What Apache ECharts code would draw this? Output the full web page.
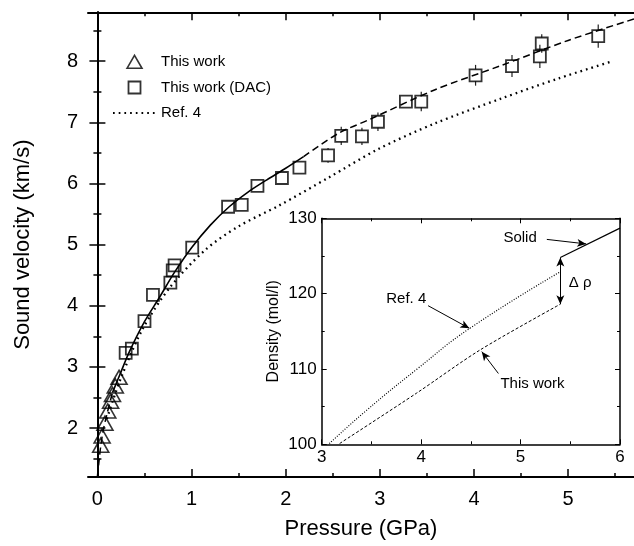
<!DOCTYPE html>
<html>
<head>
<meta charset="utf-8">
<script src="https://cdn.jsdelivr.net/npm/echarts@6.0.0/dist/echarts.min.js"></script>
<style>
  html, body { margin: 0; padding: 0; background: #fff; }
  #chart { width: 634px; height: 546px; }
</style>
</head>
<body>
<div id="chart"></div>
<script>
// Données
// Mesures "This work" (triangles)
const triP = [0.035, 0.05, 0.08, 0.11, 0.14, 0.16, 0.19, 0.23];
const triV = [1.72, 1.87, 2.08, 2.28, 2.44, 2.55, 2.69, 2.83];

// Mesures DAC (carrés) + barres d'erreur
const dacP = [0.30, 0.366, 0.50, 0.59, 0.775, 0.80, 0.82, 1.007, 1.388, 1.533, 1.70, 1.96, 2.146,
              2.45, 2.59, 2.81, 2.98, 3.277, 3.44, 4.017, 4.404, 4.70, 4.72, 5.32];
const dacV = [3.23, 3.30, 3.75, 4.18, 4.38, 4.58, 4.66, 4.95, 5.62, 5.65, 5.96, 6.09, 6.26,
              6.46, 6.78, 6.77, 7.01, 7.34, 7.34, 7.77, 7.92, 8.08, 8.29, 8.41];
const dacErr = [0, 0, 0, 0, 0, 0, 0, 0, 0, 0, 0, 0, 0,
                0.12, 0.15, 0.14, 0.15, 0, 0.16, 0.17, 0.18, 0.19, 0.15, 0.19];

// Ajustement (trait plein au milieu, tirets aux extrémités)
const fitLowP = [0.0, 0.02, 0.035, 0.06, 0.10, 0.16];
const fitLowV = [1.21, 1.50, 1.70, 1.95, 2.22, 2.58];
const fitP = [0.16, 0.24, 0.34, 0.50, 0.66, 0.82, 1.00, 1.20, 1.40, 1.60, 1.80, 2.00, 2.19];
const fitV = [2.58, 2.88, 3.25, 3.74, 4.14, 4.55, 4.95, 5.32, 5.62, 5.86, 6.06, 6.25, 6.44];
const fitHighP = [2.19, 2.56, 2.88, 3.58, 4.29, 5.00, 5.70];
const fitHighV = [6.44, 6.82, 7.04, 7.53, 7.93, 8.34, 8.69];

// Ref. 4 (pointillés)
const refP = [0.10, 0.25, 0.48, 0.77, 1.15, 1.50, 1.93, 2.46, 2.98, 3.58, 4.29, 4.90, 5.47];
const refV = [2.15, 2.82, 3.62, 4.30, 4.92, 5.30, 5.64, 6.10, 6.56, 6.98, 7.39, 7.72, 8.00];

// Graduations de l'axe principal
const xMajor = [0, 1, 2, 3, 4, 5];
const xMinor = [0.5, 1.5, 2.5, 3.5, 4.5, 5.5];
const yMajor = [2, 3, 4, 5, 6, 7, 8];
const yMinor = [1.5, 2.5, 3.5, 4.5, 5.5, 6.5, 7.5, 8.5];

// Encart : densité
const insRefP = [3.077, 3.45, 3.96, 4.49, 5.40];
const insRefD = [100.1, 104.5, 110.0, 115.4, 122.9];
const insWorkP = [3.18, 3.955, 4.59, 5.40];
const insWorkD = [100.1, 106.8, 112.5, 118.6];
const insSolidP = [5.40, 6.00];
const insSolidD = [124.8, 128.7];

const FONT = '"Liberation Sans", Arial, sans-serif';

function zip(a, b) { return a.map((x, i) => [x, b[i]]); }

const errData = dacP.map((p, i) => [p, dacV[i], dacErr[i]]).filter(d => d[2] > 0);

// Axe "graduations seulement" (cadre principal)
function tickAxis(dim, pos, vals, len, showLine) {
    return {
        type: 'value', gridIndex: 0, position: pos,
        min: dim === 'x' ? -0.1 : 1.2,
        max: dim === 'x' ? 5.7 : 8.8,
        axisLine: { show: showLine, lineStyle: { color: '#000', width: 2 } },
        axisTick: { show: true, inside: true, length: len, customValues: vals,
                    lineStyle: { color: '#000', width: 1.5 } },
        axisLabel: { show: false },
        splitLine: { show: false }
    };
}

const chart = echarts.init(document.getElementById('chart'));

const xMain = tickAxis('x', 'bottom', xMajor, 8, true);
xMain.axisLabel = { show: true, customValues: xMajor, color: '#000', fontSize: 20,
                    fontFamily: FONT, margin: 12 };
xMain.name = 'Pressure (GPa)';
xMain.nameLocation = 'middle';
xMain.nameGap = 41;
xMain.nameTextStyle = { color: '#000', fontSize: 22, fontFamily: FONT };

const yMain = tickAxis('y', 'left', yMajor, 8, true);
yMain.axisLabel = { show: true, customValues: yMajor, color: '#000', fontSize: 20,
                    fontFamily: FONT, margin: 10 };
yMain.name = 'Sound velocity (km/s)';
yMain.nameLocation = 'middle';
yMain.nameGap = 54;
yMain.nameTextStyle = { color: '#000', fontSize: 22, fontFamily: FONT };

function insetAxis(dim, pos, labels) {
    return {
        type: 'value', gridIndex: 1, position: pos,
        min: dim === 'x' ? 3 : 100,
        max: dim === 'x' ? 6 : 130,
        interval: dim === 'x' ? 1 : 10,
        axisLine: { show: true, lineStyle: { color: '#000', width: 1.5 } },
        axisTick: { show: true, inside: true, length: 5, lineStyle: { color: '#000', width: 1 } },
        minorTick: { show: true, splitNumber: 2, length: 3, lineStyle: { color: '#000', width: 1 } },
        axisLabel: { show: labels, color: '#000', fontSize: 17, fontFamily: FONT, margin: 5 },
        splitLine: { show: false }
    };
}

const yInset = insetAxis('y', 'left', true);
yInset.name = 'Density (mol/l)';
yInset.nameLocation = 'middle';
yInset.nameGap = 40;
yInset.nameTextStyle = { color: '#000', fontSize: 16, fontFamily: FONT };

// Icônes de légende centrées dans une case de 43 x 14
const ICON_TRI = 'path://M0,0M43,14M14,13.5L21.5,0.5L29,13.5Z';
const ICON_SQR = 'path://M0,0M43,14M15.5,1L27.5,1L27.5,13L15.5,13Z';

const option = {
    animation: false,
    backgroundColor: '#fff',
    grid: [
        { left: 88, top: 12.3, width: 549, height: 464.7, show: false },
        { left: 321.7, top: 218.3, width: 298.3, height: 226, show: true,
          backgroundColor: '#fff', borderWidth: 0 }
    ],
    legend: {
        data: [
            { name: 'This work', icon: ICON_TRI,
              itemStyle: { color: 'rgba(255,255,255,0)', borderColor: '#000', borderWidth: 1.6 } },
            { name: 'This work (DAC)', icon: ICON_SQR,
              itemStyle: { color: 'rgba(255,255,255,0)', borderColor: '#000', borderWidth: 1.8 } },
            { name: 'Ref. 4', itemStyle: { opacity: 0 } }
        ],
        orient: 'vertical', left: 112, top: 54, padding: 0,
        itemWidth: 43, itemHeight: 14, itemGap: 10, symbolKeepAspect: false,
        textStyle: { color: '#000', fontSize: 15, fontFamily: FONT }
    },
    xAxis: [
        xMain,
        tickAxis('x', 'bottom', xMinor, 4, false),
        tickAxis('x', 'top', xMajor, 8, true),
        tickAxis('x', 'top', xMinor, 4, false),
        insetAxis('x', 'bottom', true),
        insetAxis('x', 'top', false)
    ],
    yAxis: [
        yMain,
        tickAxis('y', 'left', yMinor, 4, false),
        tickAxis('y', 'right', yMajor, 8, true),
        tickAxis('y', 'right', yMinor, 4, false),
        yInset,
        insetAxis('y', 'right', false)
    ],
    series: [
        {
            name: 'Ref. 4', type: 'line', xAxisIndex: 0, yAxisIndex: 0,
            data: zip(refP, refV), smooth: 0.3, showSymbol: false, symbol: 'none',
            lineStyle: { color: '#000', width: 2.3, type: [1.7, 4] }, z: 3
        },
        {
            type: 'line', xAxisIndex: 0, yAxisIndex: 0,
            data: zip(fitLowP, fitLowV), smooth: 0.3, showSymbol: false, symbol: 'none',
            lineStyle: { color: '#000', width: 1.5, type: [7, 4] }, z: 3
        },
        {
            type: 'line', xAxisIndex: 0, yAxisIndex: 0,
            data: zip(fitP, fitV), smooth: 0.3, showSymbol: false, symbol: 'none',
            lineStyle: { color: '#000', width: 1.6, type: 'solid' }, z: 3
        },
        {
            type: 'line', xAxisIndex: 0, yAxisIndex: 0,
            data: zip(fitHighP, fitHighV), smooth: 0.3, showSymbol: false, symbol: 'none',
            lineStyle: { color: '#000', width: 1.5, type: [7, 4] }, z: 3
        },
        {
            type: 'custom', xAxisIndex: 0, yAxisIndex: 0, data: errData, z: 4,
            renderItem: function (params, api) {
                const x = api.value(0), y = api.value(1), e = api.value(2);
                const c = api.coord([x, y]);
                const top = api.coord([x, y + e]);
                const bot = api.coord([x, y - e]);
                const h = 6;
                const st = { stroke: '#222', lineWidth: 1.2 };
                return {
                    type: 'group',
                    children: [
                        { type: 'line', shape: { x1: c[0], y1: top[1], x2: c[0], y2: c[1] - h }, style: st },
                        { type: 'line', shape: { x1: c[0], y1: c[1] + h, x2: c[0], y2: bot[1] }, style: st }
                    ]
                };
            }
        },
        {
            name: 'This work', type: 'scatter', xAxisIndex: 0, yAxisIndex: 0,
            data: zip(triP, triV), symbol: 'triangle', symbolSize: [16, 14],
            itemStyle: { color: 'rgba(255,255,255,0)', borderColor: '#000', borderWidth: 1.6 }, z: 5
        },
        {
            name: 'This work (DAC)', type: 'scatter', xAxisIndex: 0, yAxisIndex: 0,
            data: zip(dacP, dacV), symbol: 'rect', symbolSize: 12,
            itemStyle: { color: 'rgba(255,255,255,0)', borderColor: '#000', borderWidth: 1.8 }, z: 5
        },
        // Encart
        {
            type: 'line', xAxisIndex: 4, yAxisIndex: 4,
            data: zip(insRefP, insRefD), smooth: 0.5, showSymbol: false, symbol: 'none',
            lineStyle: { color: '#000', width: 1.2, type: [1, 1.6] }, z: 6
        },
        {
            type: 'line', xAxisIndex: 4, yAxisIndex: 4,
            data: zip(insWorkP, insWorkD), smooth: 0.3, showSymbol: false, symbol: 'none',
            lineStyle: { color: '#000', width: 1, type: [3, 2] }, z: 6,
            markLine: {
                silent: true, symbol: ['none', 'arrow'], symbolSize: [6, 9],
                label: { show: false },
                lineStyle: { color: '#000', width: 1, type: 'solid' },
                data: [
                    [{ coord: [5.264, 127.2] }, { coord: [5.66, 126.6] }],
                    [{ coord: [4.07, 118.4] }, { coord: [4.485, 115.4] }],
                    [{ coord: [4.777, 109.4] }, { coord: [4.61, 112.3] }],
                    [{ coord: [5.40, 118.6], symbol: 'arrow' }, { coord: [5.40, 124.8] }]
                ]
            },
            markPoint: {
                silent: true, symbol: 'circle', symbolSize: 0,
                label: { show: true, formatter: '{b}', color: '#000', fontSize: 15, fontFamily: FONT },
                data: [
                    { name: 'Solid', coord: [4.995, 127.4] },
                    { name: 'Ref. 4', coord: [3.85, 119.3] },
                    { name: 'This work', coord: [5.12, 108.0] },
                    { name: 'Δ ρ', coord: [5.6, 121.4] }
                ]
            }
        },
        {
            type: 'line', xAxisIndex: 4, yAxisIndex: 4,
            data: zip(insSolidP, insSolidD), showSymbol: false, symbol: 'none',
            lineStyle: { color: '#000', width: 1.2, type: 'solid' }, z: 6
        }
    ]
};

chart.setOption(option);
</script>
</body>
</html>
